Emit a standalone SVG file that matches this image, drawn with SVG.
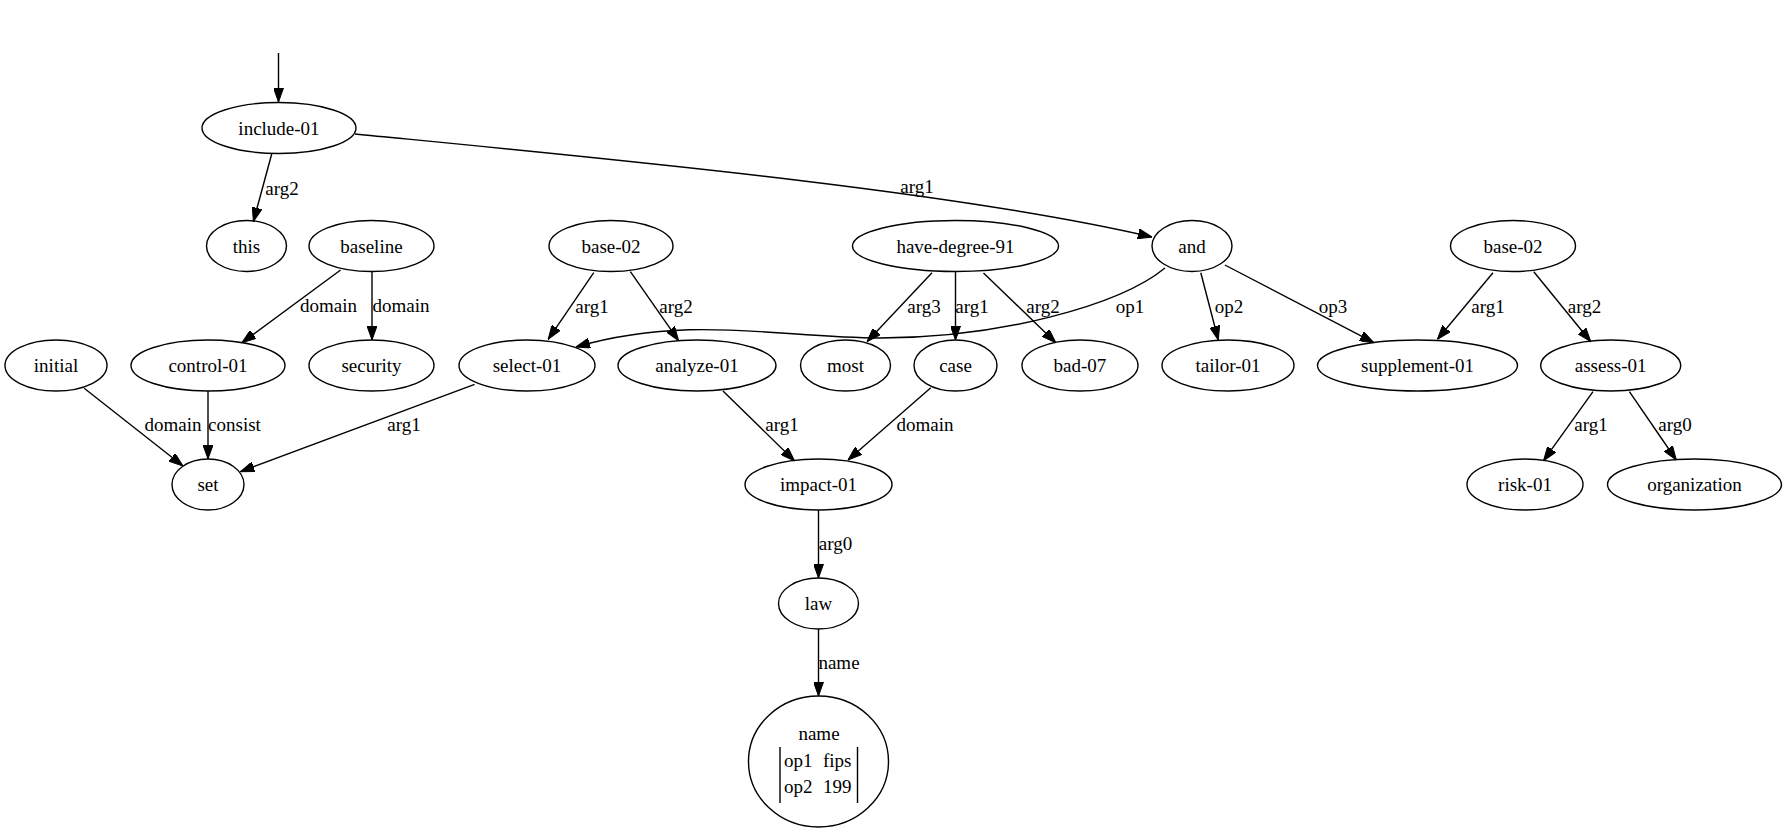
<svg xmlns="http://www.w3.org/2000/svg" width="1787" height="833" viewBox="0 0 1787 833" font-family="Liberation Serif, serif" font-size="19">
<defs>
<marker id="ah" markerWidth="14" markerHeight="10" refX="14" refY="5" orient="auto" markerUnits="userSpaceOnUse">
<path d="M0,0 L14,5 L0,10 z" fill="#000" stroke="#000" stroke-width="1"/>
</marker>
<style>
ellipse{fill:none;stroke:#000;stroke-width:1.4}
text{font-family:'Liberation Serif',serif;font-size:19px;fill:#000}
.n text{text-anchor:middle}
.e path,.e line{fill:none;stroke:#000;stroke-width:1.4;marker-end:url(#ah)}
.e text{text-anchor:middle}
.bar{stroke:#000;stroke-width:1.4}
</style>
</defs>
<rect width="1787" height="833" fill="#fff"/>
<g class="n">
<g id="include-01"><ellipse cx="279" cy="128" rx="77" ry="25.5"/><text x="279" y="134.5">include-01</text></g>
<g id="this"><ellipse cx="246.5" cy="246" rx="40" ry="25.5"/><text x="246.5" y="252.5">this</text></g>
<g id="baseline"><ellipse cx="371.5" cy="246" rx="62.5" ry="25.5"/><text x="371.5" y="252.5">baseline</text></g>
<g id="base-02a"><ellipse cx="611" cy="246" rx="62" ry="25.5"/><text x="611" y="252.5">base-02</text></g>
<g id="have-degree-91"><ellipse cx="955.5" cy="246" rx="103" ry="25.5"/><text x="955.5" y="252.5">have-degree-91</text></g>
<g id="and"><ellipse cx="1192" cy="246" rx="40" ry="25.5"/><text x="1192" y="252.5">and</text></g>
<g id="base-02b"><ellipse cx="1513" cy="246" rx="62.5" ry="25.5"/><text x="1513" y="252.5">base-02</text></g>
<g id="initial"><ellipse cx="56" cy="365.5" rx="51" ry="25.5"/><text x="56" y="372">initial</text></g>
<g id="control-01"><ellipse cx="208" cy="365.5" rx="77" ry="25.5"/><text x="208" y="372">control-01</text></g>
<g id="security"><ellipse cx="371.5" cy="365.5" rx="62.5" ry="25.5"/><text x="371.5" y="372">security</text></g>
<g id="select-01"><ellipse cx="527" cy="365.5" rx="68" ry="25.5"/><text x="527" y="372">select-01</text></g>
<g id="analyze-01"><ellipse cx="697" cy="365.5" rx="79" ry="25.5"/><text x="697" y="372">analyze-01</text></g>
<g id="most"><ellipse cx="845.5" cy="365.5" rx="45" ry="25.5"/><text x="845.5" y="372">most</text></g>
<g id="case"><ellipse cx="955.5" cy="365.5" rx="41.5" ry="25.5"/><text x="955.5" y="372">case</text></g>
<g id="bad-07"><ellipse cx="1080" cy="365.5" rx="58" ry="25.5"/><text x="1080" y="372">bad-07</text></g>
<g id="tailor-01"><ellipse cx="1228" cy="365.5" rx="66" ry="25.5"/><text x="1228" y="372">tailor-01</text></g>
<g id="supplement-01"><ellipse cx="1417.5" cy="365.5" rx="100" ry="25.5"/><text x="1417.5" y="372">supplement-01</text></g>
<g id="assess-01"><ellipse cx="1610.7" cy="365.5" rx="70" ry="25.5"/><text x="1610.7" y="372">assess-01</text></g>
<g id="set"><ellipse cx="208" cy="484.5" rx="36" ry="25.5"/><text x="208" y="491">set</text></g>
<g id="impact-01"><ellipse cx="818.5" cy="484.5" rx="73.5" ry="25.5"/><text x="818.5" y="491">impact-01</text></g>
<g id="risk-01"><ellipse cx="1525" cy="484.5" rx="58" ry="25.5"/><text x="1525" y="491">risk-01</text></g>
<g id="organization"><ellipse cx="1694.5" cy="484.5" rx="87" ry="25.5"/><text x="1694.5" y="491">organization</text></g>
<g id="law"><ellipse cx="818.5" cy="603.5" rx="40" ry="25.5"/><text x="818.5" y="610">law</text></g>
<g id="name"><ellipse cx="818.5" cy="761.5" rx="70" ry="65.5"/>
<text x="819" y="740">name</text>
<line class="bar" x1="780" y1="747" x2="780" y2="803"/>
<line class="bar" x1="857.5" y1="747" x2="857.5" y2="803"/>
<text x="784" y="767" style="text-anchor:start">op1</text>
<text x="823" y="767" style="text-anchor:start">fips</text>
<text x="784" y="793" style="text-anchor:start">op2</text>
<text x="823" y="793" style="text-anchor:start">199</text>
</g>
</g>
<g class="e" id="connectors">
<line x1="278.5" y1="53" x2="278.5" y2="102"/>
<line x1="271.7" y1="154" x2="253.4" y2="221.5"/><text x="282" y="194.5">arg2</text>
<path d="M355,134 C600,158 950,190 1152,237"/><text x="917" y="193">arg1</text>
<line x1="340.6" y1="270" x2="241.9" y2="342.7"/><text x="328.5" y="311.5">domain</text>
<line x1="372" y1="271" x2="372" y2="340"/><text x="401" y="311.5">domain</text>
<line x1="84.2" y1="388.3" x2="183" y2="466"/><text x="173" y="431">domain</text>
<line x1="208" y1="391" x2="208" y2="459"/><text x="234.5" y="431">consist</text>
<line x1="474.6" y1="384.3" x2="240.3" y2="471.7"/><text x="404" y="431">arg1</text>
<line x1="593.75" y1="272.7" x2="548.2" y2="339.3"/><text x="592" y="312.5">arg1</text>
<line x1="630.4" y1="271.7" x2="678.6" y2="340.7"/><text x="676" y="312.5">arg2</text>
<line x1="932" y1="272.7" x2="867" y2="341.7"/><text x="924" y="312.5">arg3</text>
<line x1="955.5" y1="272" x2="955.5" y2="340"/><text x="972" y="312.5">arg1</text>
<line x1="983.5" y1="273" x2="1055.8" y2="342.7"/><text x="1043" y="312.5">arg2</text>
<path d="M1165,268 C1120,305 1000,338 880,338 C780,338 690,314 576,347"/><text x="1130" y="312.5">op1</text>
<line x1="1200.8" y1="272.7" x2="1218.3" y2="340"/><text x="1229" y="312.5">op2</text>
<line x1="1224.9" y1="265" x2="1373.9" y2="342.7"/><text x="1333" y="312.5">op3</text>
<line x1="1493" y1="272.7" x2="1437.4" y2="339.3"/><text x="1488" y="312.5">arg1</text>
<line x1="1533.8" y1="271.7" x2="1590.8" y2="341.7"/><text x="1584.5" y="312.5">arg2</text>
<line x1="1593" y1="391.7" x2="1543.5" y2="460.7"/><text x="1591" y="431">arg1</text>
<line x1="1629.4" y1="391.7" x2="1676.3" y2="460"/><text x="1675" y="431">arg0</text>
<line x1="723" y1="391" x2="794.6" y2="461"/><text x="782" y="431">arg1</text>
<line x1="930.8" y1="387.7" x2="848" y2="460"/><text x="925" y="431">domain</text>
<line x1="818.5" y1="510" x2="818.5" y2="578"/><text x="835.5" y="550">arg0</text>
<line x1="818.5" y1="629" x2="818.5" y2="696"/><text x="839" y="668.5">name</text>
</g>
</svg>
